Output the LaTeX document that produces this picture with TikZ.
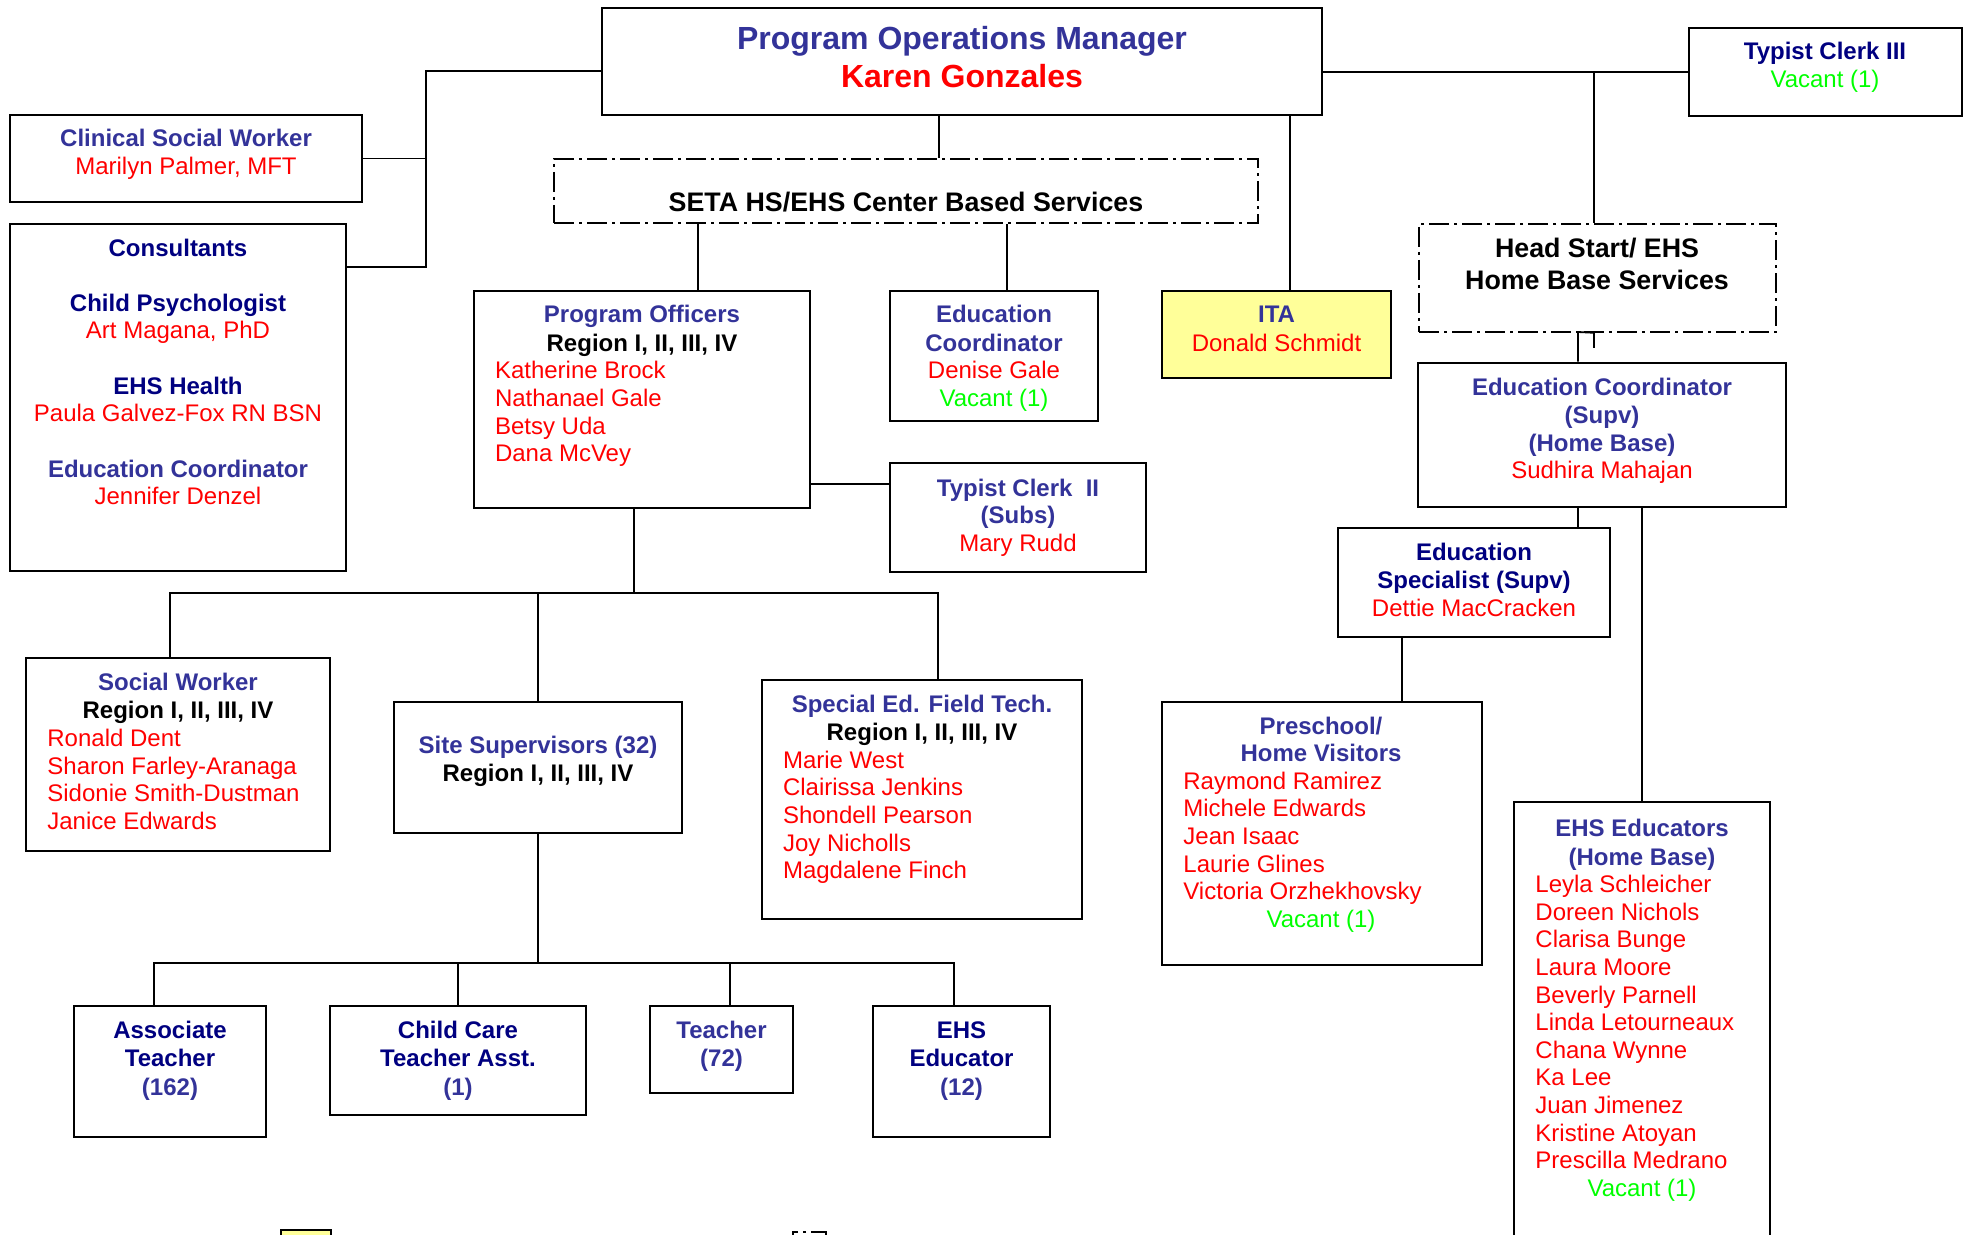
\documentclass[tikz,border=0pt]{standalone}
\usepackage{fontspec}
\setmainfont{Liberation Sans}
\usepackage{xcolor}
\usepackage{tikz}
\usetikzlibrary{fit}

\definecolor{indigo}{HTML}{333399}
\definecolor{navyblue}{HTML}{000080}
\definecolor{vacgreen}{HTML}{00FF00}
\definecolor{itayellow}{HTML}{FFFF99}
\newcommand{\orgbold}{\fontsize{12}{14}\selectfont\bfseries}
\newcommand{\orgplain}{\fontsize{12}{14}\selectfont}
\newcommand{\orgbig}{\fontsize{16}{19}\selectfont\bfseries}
\newcommand{\orgunit}{\fontsize{13.4}{16}\selectfont\bfseries}

\tikzset{
  box/.style={draw, line width=1.3pt, inner sep=0pt},
  dashbox/.style={draw, line width=0.8pt, inner sep=0pt, dash pattern=on 10pt off 2.5pt on 1.5pt off 2.5pt},
  lnk/.style={line width=0.9pt},
  role/.style={inner sep=0pt, anchor=base, font=\orgbold, text=indigo},
  rolenavy/.style={role, text=navyblue},
  region/.style={role, text=black},
  unit/.style={region, font=\orgunit},
  person/.style={inner sep=0pt, anchor=base west, font=\orgplain, text=red},
  personc/.style={person, anchor=base},
  vacant/.style={personc, text=vacgreen}
}

\begin{document}
\begin{tikzpicture}[x=0.5pt,y=-0.5pt]
\useasboundingbox (0,0) rectangle (1963,1235);

% boxes
\node[box, fit={(602,8) (1322,115)}] (mgr) {};
\node[box, fit={(10,115) (362,202)}] (csw) {};
\node[box, fit={(10,224) (346,571)}] (cons) {};
\node[dashbox, fit={(554,159) (1258,223)}] (seta) {};
\node[box, fit={(1689,28) (1962,116)}] (tc3) {};
\node[dashbox, fit={(1419,224) (1776,332)}] (hs) {};
\node[box, fit={(474,291) (810,508)}] (po) {};
\node[box, fit={(890,291) (1098,421)}] (edc) {};
\node[box, fill=itayellow, fit={(1162,291) (1391,378)}] (ita) {};
\node[box, fit={(890,463) (1146,572)}] (tc2) {};
\node[box, fit={(1418,363) (1786,507)}] (ecs) {};
\node[box, fit={(1338,528) (1610,637)}] (es) {};
\node[box, fit={(26,658) (330,851)}] (sw) {};
\node[box, fit={(394,702) (682,833)}] (ss) {};
\node[box, fit={(762,680) (1082,919)}] (sp) {};
\node[box, fit={(1162,702) (1482,965)}] (ph) {};
\node[box, fit={(1514,802) (1770,1260)}] (ehse) {};
\node[box, fit={(74,1006) (266,1137)}] (at) {};
\node[box, fit={(330,1006) (586,1115)}] (cc) {};
\node[box, fit={(650,1006) (793,1093)}] (tch) {};
\node[box, fit={(873,1006) (1050,1137)}] (ehs) {};
\node[box, fill=itayellow, fit={(281,1230) (331,1270)}] (legita) {};
\node[dashbox, fit={(793,1232) (826,1270)}] (legdash) {};

% taps
\coordinate (lbustop) at (426,71);
\coordinate (lbusbot) at (426,267);
\coordinate (mgrdrop) at (939,0);
\coordinate (potap) at (698,0);
\coordinate (edctap) at (1007,0);
\coordinate (itatap) at (1290,0);
\coordinate (hstap) at (1594,0);
\coordinate (tc2tap) at (0,484);
\coordinate (hshook) at (1578,332);
\coordinate (phtap) at (1402,0);
\coordinate (podrop) at (634,593);
\coordinate (busl) at (170,593);
\coordinate (busr) at (938,593);
\coordinate (bbusl) at (154,963);
\coordinate (bbusr) at (954,963);
\coordinate (tchtap) at (730,963);

% connectors
\draw[lnk] (mgr.west |- lbustop) -- (lbustop) -- (lbusbot) -- (cons.east |- lbusbot);
\draw[lnk] (csw.east) -- (csw.east -| lbustop);
\draw[lnk] (mgr.south -| mgrdrop) -- (seta.north -| mgrdrop);
\draw[lnk] (seta.south -| potap) -- (po.north -| potap);
\draw[lnk] (seta.south -| edctap) -- (edc.north -| edctap);
\draw[lnk] (mgr.south -| itatap) -- (ita.north -| itatap);
\draw[lnk] (mgr.east |- tc3.west) -- (tc3.west);
\draw[lnk] (tc3.west -| hstap) -- (hs.north -| hstap);
\draw[lnk] ([yshift=-7.5pt]hs.south -| hstap) -- (hs.south -| hstap) -- (hshook) -- (ecs.north -| hshook);
\draw[lnk] (po.east |- tc2tap) -- (tc2.west |- tc2tap);
\draw[lnk] (po.south -| podrop) -- (podrop);
\draw[lnk] (sw.north -| busl) -- (busl) -- (busr) -- (sp.north -| busr);
\draw[lnk] (ss.north) -- (ss.north |- busl);
\draw[lnk] (ss.south) -- (ss.south |- bbusl);
\draw[lnk] (at.north -| bbusl) -- (bbusl) -- (bbusr) -- (ehs.north -| bbusr);
\draw[lnk] (cc.north) -- (cc.north |- bbusl);
\draw[lnk] (tchtap) -- (tch.north -| tchtap);
\draw[lnk] (ecs.south -| hshook) -- (es.north -| hshook);
\draw[lnk] (ehse.north) -- (ehse.north |- ecs.south);
\draw[lnk] (es.south -| phtap) -- (ph.north -| phtap);

% texts
\node[role, font=\orgbig] (mgrtitle) at (962,50) {Program Operations Manager};
\node[role, font=\orgbig, text=red] (mgrname) at (962,88) {Karen Gonzales};

\node[role] (cswtitle) at (186,146.7) {Clinical Social Worker};
\node[personc] (cswname) at (186,175) {Marilyn Palmer, MFT};

\node[rolenavy] (constitle) at (178,257) {Consultants};
\node[rolenavy] (psytitle) at (178,312) {Child Psychologist};
\node[personc] (psyname) at (178,339) {Art Magana, PhD};
\node[rolenavy] (healthtitle) at (178,394) {EHS Health};
\node[personc] (healthname) at (178,422) {Paula Galvez-Fox RN BSN};
\node[role] (conedtitle) at (178,477) {Education Coordinator};
\node[personc] (conedname) at (178,504) {Jennifer Denzel};

\node[unit] (setatitle) at (906,212) {SETA HS/EHS Center Based Services};

\node[rolenavy] (tc3title) at (1825,60) {Typist Clerk III};
\node[vacant] (tc3vac) at (1825,88) {Vacant (1)};

\node[unit] (hstitle) at (1597,258) {Head Start/ EHS};
\node[unit] (hssub) at (1597,290) {Home Base Services};

\node[role] (potitle) at (642,323) {Program Officers};
\node[region] (poregion) at (642,351) {Region I, II, III, IV};
\foreach \nm [count=\k] in {Katherine Brock, Nathanael Gale, Betsy Uda, Dana McVey}
  \node[person] (poname\k) at (494.6,{379+27.6*(\k-1)}) {\nm};

\node[role] (edctitle) at (994,323) {Education};
\node[role] (edcsub) at (994,351) {Coordinator};
\node[personc] (edcname) at (994,379) {Denise Gale};
\node[vacant] (edcvac) at (994,407) {Vacant (1)};

\node[role] (itatitle) at (1276.5,323) {ITA};
\node[personc] (itaname) at (1276.5,351) {Donald Schmidt};

\node[role] (tc2title) at (1018,496) {Typist Clerk~ II};
\node[role] (tc2sub) at (1018,523) {(Subs)};
\node[personc] (tc2name) at (1018,551) {Mary Rudd};

\node[role] (ecstitle) at (1602,395) {Education Coordinator};
\node[role] (ecssupv) at (1602,423) {(Supv)};
\node[role] (ecsbase) at (1602,451) {(Home Base)};
\node[personc] (ecsname) at (1602,478) {Sudhira Mahajan};

\node[rolenavy] (estitle) at (1474,560) {Education};
\node[rolenavy] (essub) at (1474,588) {Specialist (Supv)};
\node[personc] (esname) at (1474,616) {Dettie MacCracken};

\node[role] (swtitle) at (178,690) {Social Worker};
\node[region] (swregion) at (178,718) {Region I, II, III, IV};
\foreach \nm [count=\k] in {Ronald Dent, Sharon Farley-Aranaga, Sidonie Smith-Dustman, Janice Edwards}
  \node[person] (swname\k) at (47,{746.7+27.6*(\k-1)}) {\nm};

\node[role] (sstitle) at (538,753) {Site Supervisors (32)};
\node[region] (ssregion) at (538,781) {Region I, II, III, IV};

\node[role] (sptitle) at (922,712.7) {Special Ed. Field Tech.};
\node[region] (spregion) at (922,740.7) {Region I, II, III, IV};
\foreach \nm [count=\k] in {Marie West, Clairissa Jenkins, Shondell Pearson, Joy Nicholls, Magdalene Finch}
  \node[person] (spname\k) at (782.6,{768.3+27.6*(\k-1)}) {\nm};

\node[role] (phtitle) at (1321,734) {Preschool/};
\node[role] (phsub) at (1321,761.7) {Home Visitors};
\foreach \nm [count=\k] in {Raymond Ramirez, Michele Edwards, Jean Isaac, Laurie Glines, Victoria Orzhekhovsky}
  \node[person] (phname\k) at (1183,{789.3+27.6*(\k-1)}) {\nm};
\node[vacant] (phvac) at (1321,927.7) {Vacant (1)};

\node[role] (ehsetitle) at (1642,836.7) {EHS Educators};
\node[role] (ehsesub) at (1642,865) {(Home Base)};
\foreach \nm [count=\k] in {Leyla Schleicher, Doreen Nichols, Clarisa Bunge, Laura Moore, Beverly Parnell, Linda Letourneaux, Chana Wynne, Ka Lee, Juan Jimenez, Kristine Atoyan, Prescilla Medrano}
  \node[person] (ehsename\k) at (1535,{892.7+27.6*(\k-1)}) {\nm};
\node[vacant] (ehsevac) at (1642,1196.7) {Vacant (1)};

\node[rolenavy] (attitle) at (170,1038.3) {Associate};
\node[rolenavy] (atsub) at (170,1066.7) {Teacher};
\node[role] (atcount) at (170,1095) {(162)};

\node[rolenavy] (cctitle) at (458,1038.3) {Child Care};
\node[rolenavy] (ccsub) at (458,1066.7) {Teacher Asst.};
\node[role] (cccount) at (458,1095) {(1)};

\node[role] (tchtitle) at (721.5,1038.3) {Teacher};
\node[role] (tchcount) at (721.5,1066.7) {(72)};

\node[rolenavy] (ehstitle) at (961.5,1038.3) {EHS};
\node[rolenavy] (ehssub) at (961.5,1066.7) {Educator};
\node[role] (ehscount) at (961.5,1095) {(12)};
\end{tikzpicture}
\end{document}
